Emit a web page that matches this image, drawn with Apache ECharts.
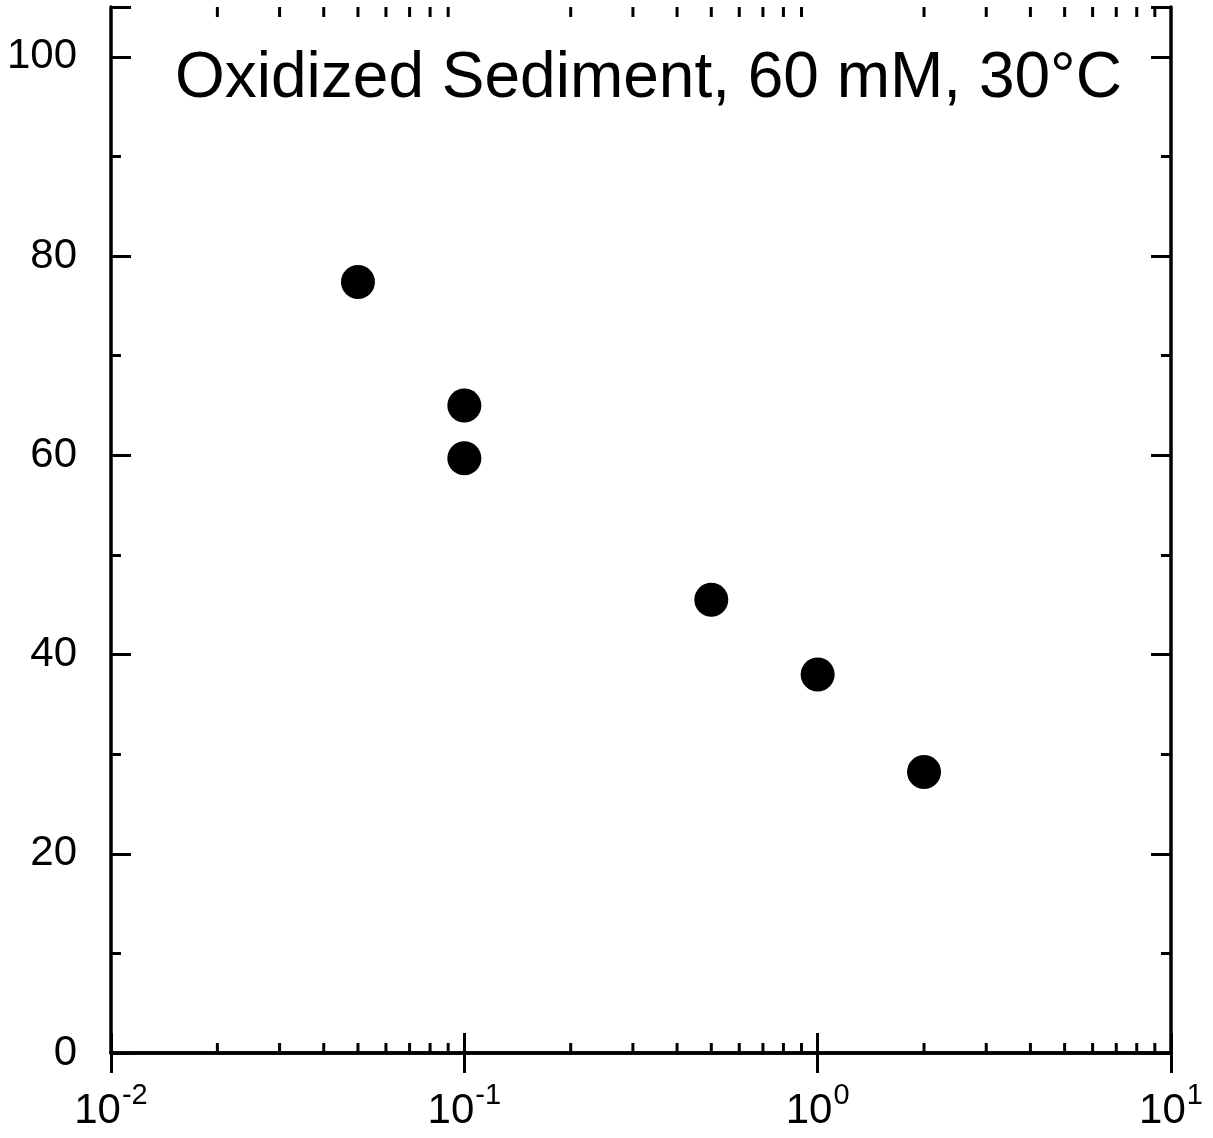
<!DOCTYPE html>
<html lang="en">
<head>
    <meta charset="UTF-8">
    <title>Oxidized Sediment</title>
    <script src="https://cdn.jsdelivr.net/npm/echarts@6.0.0/dist/echarts.min.js"></script>
</head>
<body style="margin:0">
<div id="chart" style="width:1213px;height:1138px"></div>
<script>
// data
const xValues = [0.05, 0.1, 0.1, 0.5, 1, 2]
const yValues = [77.4, 65.0, 59.7, 45.5, 38.0, 28.2]
const yTicks = [0, 20, 40, 60, 80, 100]
const xMinorTicks = [0.02, 0.03, 0.04, 0.05, 0.06, 0.07, 0.08, 0.09,
    0.2, 0.3, 0.4, 0.5, 0.6, 0.7, 0.8, 0.9,
    2, 3, 4, 5, 6, 7, 8, 9]
const titleText = 'Oxidized Sediment, 60 mM, 30\u00B0C'

const font = '"Liberation Sans", Arial, sans-serif'
const yMax = 105

const chart = echarts.init(document.getElementById('chart'))

const tickStyle = { color: '#000', width: 3 }
function xAxisOf(pos, showLabel) {
    return {
        type: 'log', logBase: 10, min: 0.01, max: 10, position: pos,
        axisLine: { show: true, lineStyle: { color: '#000', width: 3.5 } },
        axisTick: { show: true, inside: true, length: 20, lineStyle: tickStyle },
        splitLine: { show: false },
        axisLabel: {
            show: showLabel, margin: 28,
            formatter: v => '{b|10}{e|' + Math.round(Math.log10(v)) + '}',
            rich: {
                b: { fontFamily: font, fontSize: 42, color: '#000', lineHeight: 60 },
                e: { fontFamily: font, fontSize: 29, color: '#000', lineHeight: 28, verticalAlign: 'top', padding: [0, 0, 0, 1] }
            }
        }
    }
}
function yAxisOf(pos, showLabel) {
    return {
        type: 'value', min: 0, max: yMax, interval: 20, position: pos,
        axisLine: { show: true, lineStyle: { color: '#000', width: 3.5 } },
        axisTick: { show: true, inside: true, length: 20, lineStyle: tickStyle },
        minorTick: { show: true, splitNumber: 2, length: 10, lineStyle: tickStyle },
        splitLine: { show: false },
        axisLabel: {
            show: showLabel, margin: 34, fontFamily: font, fontSize: 42, color: '#000',
            formatter: v => yTicks.includes(v) ? String(v) : ''
        }
    }
}

chart.setOption({
    animation: false,
    grid: { left: 111, right: 42, top: 7, bottom: 85 },
    xAxis: [xAxisOf('bottom', true), xAxisOf('top', false)],
    yAxis: [yAxisOf('left', true), yAxisOf('right', false)],
    graphic: [{
        type: 'text', left: 175, top: 47,
        style: { text: titleText, fontFamily: font, fontSize: 64, fill: '#000' }
    }],
    series: [
        {
            type: 'custom',
            xAxisIndex: 0, yAxisIndex: 0,
            data: xMinorTicks.map(v => [v, 0]),
            silent: true,
            renderItem(params, api) {
                const b = api.coord([api.value(0), 0])
                const t = api.coord([api.value(0), yMax])
                const st = { stroke: '#000', lineWidth: 3 }
                return {
                    type: 'group',
                    children: [
                        { type: 'line', shape: { x1: b[0], y1: b[1], x2: b[0], y2: b[1] - 10 }, style: st },
                        { type: 'line', shape: { x1: t[0], y1: t[1], x2: t[0], y2: t[1] + 10 }, style: st }
                    ]
                }
            }
        },
        {
            type: 'scatter',
            xAxisIndex: 0, yAxisIndex: 0,
            symbol: 'circle', symbolSize: 34,
            itemStyle: { color: '#000', opacity: 1 },
            data: xValues.map((x, i) => [x, yValues[i]])
        }
    ]
})
</script>
</body>
</html>
